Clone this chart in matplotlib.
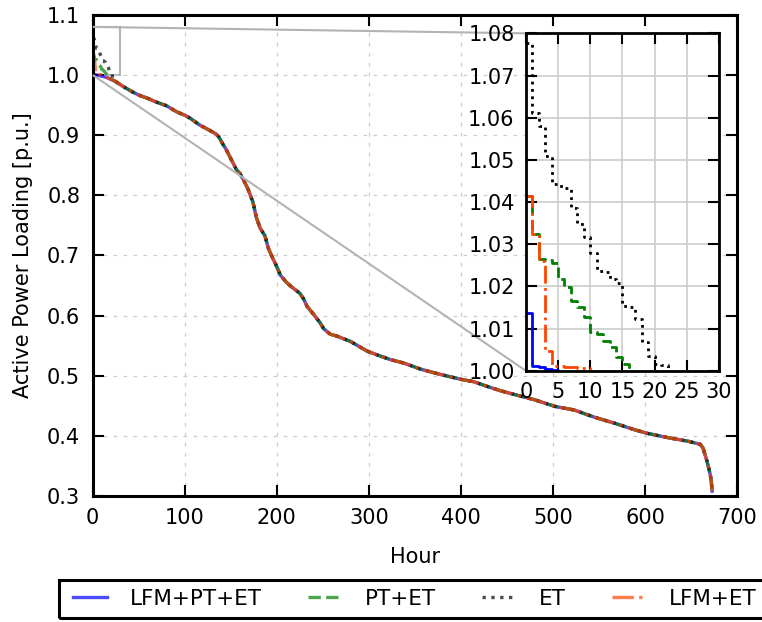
import matplotlib

matplotlib.use("Agg")
import matplotlib.pyplot as plt
from matplotlib.patches import Rectangle
from matplotlib.ticker import FormatStrFormatter, MultipleLocator
from mpl_toolkits.axes_grid1.inset_locator import mark_inset

# first hours of each sorted loading curve (hourly steps above 1.0 p.u.)
head_lfm_pt_et = [1.0138, 1.0012, 1.0008, 1.0005, 1.0002]
head_pt_et = [1.0415, 1.0324, 1.0265, 1.0262, 1.0255, 1.0217, 1.0199, 1.0166,
              1.0152, 1.0127, 1.0091, 1.0088, 1.0070, 1.0056, 1.0032, 1.0015]
head_et = [1.0776, 1.0611, 1.0580, 1.0510, 1.0442, 1.0438, 1.0434, 1.0387,
           1.0347, 1.0318, 1.0280, 1.0237, 1.0235, 1.0217, 1.0209, 1.0154,
           1.0150, 1.0123, 1.0068, 1.0036, 1.0017, 1.0013]
head_lfm_et = [1.0415, 1.0325, 1.0260, 1.0046, 1.0012, 1.0010, 1.0009, 1.0008,
               1.0007, 1.0006]

# shared part of the duration curve below 1.0 p.u.
body_hours = [5, 10, 16, 18, 22, 25, 33, 43, 51, 60, 69, 80, 91, 100, 106, 116,
              127, 134, 137, 141, 145, 149, 156, 160, 165, 169, 174, 178, 182,
              187, 191, 196, 200, 204, 210, 215, 225, 229, 233, 240, 247, 251,
              258, 265, 280, 298, 310, 323, 338, 356, 378, 400, 414, 429, 443,
              465, 480, 502, 523, 545, 567, 589, 603, 625, 647, 660, 663, 665,
              667, 669, 671, 672, 673]
body_load = [0.9995, 0.998, 0.9955, 0.994, 0.9915, 0.989, 0.981, 0.972, 0.966,
             0.961, 0.955, 0.949, 0.939, 0.933, 0.928, 0.917, 0.908, 0.902,
             0.897, 0.886, 0.876, 0.864, 0.843, 0.836, 0.822, 0.809, 0.789,
             0.762, 0.745, 0.733, 0.711, 0.694, 0.681, 0.667, 0.656, 0.649,
             0.637, 0.628, 0.615, 0.602, 0.588, 0.578, 0.569, 0.566, 0.557,
             0.541, 0.534, 0.527, 0.521, 0.511, 0.502, 0.494, 0.490, 0.482,
             0.475, 0.466, 0.460, 0.449, 0.443, 0.431, 0.421, 0.410, 0.404,
             0.397, 0.391, 0.386, 0.380, 0.370, 0.360, 0.348, 0.335, 0.325,
             0.308]

labels = ["LFM+PT+ET", "PT+ET", "ET", "LFM+ET"]
heads = [head_lfm_pt_et, head_pt_et, head_et, head_lfm_et]
colors = ["blue", "green", "black", "orangered"]
styles = ["-", "--", ":", "-."]

FS = 15
W, H = 762, 622


def build_series(head):
    hours = list(range(len(head)))
    load = list(head)
    for h, v in zip(body_hours, body_load):
        if h >= len(head):
            hours.append(h)
            load.append(v)
    return hours, load


def style_axes(ax, lw):
    for spine in ax.spines.values():
        spine.set_linewidth(lw)
    ax.tick_params(which="both", direction="in", top=True, right=True,
                   length=8, width=1.5, labelsize=FS, pad=9)


fig = plt.figure(figsize=(W / 100, H / 100), dpi=100)
ax = fig.add_axes([0.1217, 0.2026, 0.8455, 0.7735])

lines = []
for head, label, color, ls in zip(heads, labels, colors, styles):
    hours, load = build_series(head)
    (line,) = ax.plot(hours, load, ls, color=color, lw=2.4, alpha=0.7, label=label)
    lines.append(line)

ax.set_xlim(0, 700)
ax.set_ylim(0.3, 1.1)
ax.xaxis.set_major_locator(MultipleLocator(100))
ax.yaxis.set_major_locator(MultipleLocator(0.1))
ax.yaxis.set_major_formatter(FormatStrFormatter("%.1f"))
ax.grid(True, color="0.8", linestyle=(0, (3, 5)), linewidth=0.9)
style_axes(ax, 2.2)
ax.set_xlabel("Hour", fontsize=FS, labelpad=13)
ax.set_ylabel("Active Power Loading [p.u.]", fontsize=FS, labelpad=10)

# zoomed view of the first hours
axins = fig.add_axes([0.690, 0.404, 0.2537, 0.5424])
for head, color, ls in zip(heads, colors, styles):
    hours, load = build_series(head)
    axins.plot(hours, load, ls, color=color, lw=2.0, drawstyle="steps-post")
axins.set_xlim(0, 30)
axins.set_ylim(1.0, 1.08)
axins.xaxis.set_major_locator(MultipleLocator(5))
axins.yaxis.set_major_locator(MultipleLocator(0.01))
axins.yaxis.set_major_formatter(FormatStrFormatter("%.2f"))
axins.grid(True, color="0.8", linestyle="-", linewidth=1.2)
style_axes(axins, 2.0)
axins.tick_params(pad=8)

mark_inset(ax, axins, loc1=2, loc2=3, fc="none", ec="0.7", lw=1.5)

# legend row below the axes, its box runs past the right edge
leg = fig.legend(lines, labels, loc="center left", ncol=4, fontsize=15.5,
                 bbox_to_anchor=(73.3 / W, 1 - 599 / H),
                 bbox_transform=fig.transFigure, borderaxespad=0, borderpad=0,
                 frameon=False, handlelength=1.55, handletextpad=1.08,
                 columnspacing=2.15)
fig.patches.append(Rectangle((59.3 / W, 1 - 618 / H), 0.95, 38 / H,
                             transform=fig.transFigure, fill=False,
                             edgecolor="black", linewidth=2.2))

fig.savefig("out.png", dpi=100)
